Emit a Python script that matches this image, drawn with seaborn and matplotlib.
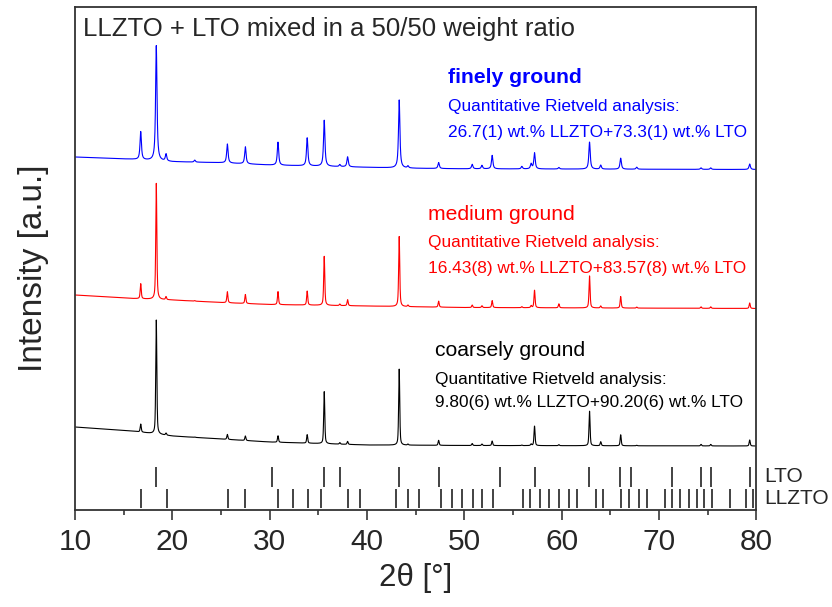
import numpy as np
import pandas as pd
import matplotlib
matplotlib.use("Agg")
import matplotlib.pyplot as plt
import seaborn as sns

# reflection positions (2theta, deg)
lto_refl = [18.34, 30.21, 35.57, 37.22, 43.28, 47.40, 53.68, 57.25, 62.84,
            66.00, 67.10, 71.37, 74.30, 75.35, 79.34]
llzto_refl = [16.78, 19.40, 25.72, 27.51, 30.90, 32.41, 33.92, 35.30, 38.00,
              39.24, 43.00, 44.23, 45.33, 47.63, 48.73, 49.78, 50.83, 51.84,
              52.90, 55.97, 56.75, 57.75, 58.72, 59.72, 60.69, 61.60, 63.48,
              64.26, 66.10, 66.92, 67.88, 68.75, 70.59, 71.37, 72.15, 73.02,
              73.89, 74.62, 75.40, 77.23, 78.97, 79.62]

# observed peaks: position and height above background (a.u.)
peak_pos = [16.75, 18.35, 19.35, 22.3, 25.65, 27.5, 30.85, 33.85, 35.6, 37.2,
            38.0, 43.3, 44.2, 47.35, 50.8, 51.8, 52.85, 55.9, 56.85, 57.2,
            59.7, 62.85, 64.0, 66.05, 67.7, 74.3, 75.3, 79.3]
fine_h = [28, 115, 7, 2, 19, 17, 23, 28, 46, 2,
          10, 68, 2, 6, 4.5, 3.5, 13.5, 2.5, 5, 16,
          1.5, 27, 4, 11, 2, 1.5, 1.5, 5.5]
medium_h = [15, 116, 3, 0.5, 11, 9, 13, 14, 49, 1.5,
            6, 70, 1.5, 6, 2.5, 1.8, 7, 1, 2, 17.5,
            4, 32, 2, 11.5, 1, 1.5, 1.5, 5.5]
coarse_h = [8, 114, 2, 0.3, 5, 4.5, 6.5, 8.5, 52, 1.5,
            3, 76, 1, 5, 2, 1.5, 4.5, 0.5, 1.5, 19.5,
            1, 34.5, 4, 11, 0.5, 1.5, 1.5, 6]

# background levels
bg_x = [10, 16, 20, 25, 30, 40, 45, 50, 80]
fine_bg = [15, 12.7, 10.3, 9.3, 7.0, 4.7, 3.7, 3.2, 2.5]
medium_bg = [15, 11.5, 10, 7.5, 5.5, 4.0, 3.2, 2.5, 1.5]
coarse_bg = [23, 18.8, 14, 11, 8, 5, 4.8, 4.5, 4]

samples = ["coarsely ground", "medium ground", "finely ground"]
heights = {"finely ground": fine_h, "medium ground": medium_h, "coarsely ground": coarse_h}
backgrounds = {"finely ground": fine_bg, "medium ground": medium_bg, "coarsely ground": coarse_bg}
offsets = {"coarsely ground": 60, "medium ground": 200, "finely ground": 338}
fwhm = {"coarsely ground": 0.13, "medium ground": 0.13, "finely ground": 0.17}
eta = {"coarsely ground": 0.5, "medium ground": 0.6, "finely ground": 0.85}
colors = {"coarsely ground": "black", "medium ground": "#ff0000", "finely ground": "#0000ff"}

tt = np.arange(10, 80.001, 0.01)


def pattern(name):
    y = np.interp(tt, bg_x, backgrounds[name]) + offsets[name]
    w = fwhm[name] / 2
    for p, h in zip(peak_pos, heights[name]):
        lor = 1 / (1 + ((tt - p) / w) ** 2)
        gau = np.exp(-np.log(2) * ((tt - p) / w) ** 2)
        y += h * (eta[name] * lor + (1 - eta[name]) * gau)
    return y


df = pd.concat([pd.DataFrame({"2theta": tt, "I": pattern(s), "sample": s}) for s in samples])

sns.set_style("ticks")
plt.rcParams["font.family"] = ["Liberation Sans", "DejaVu Sans"]

fig = plt.figure(figsize=(8.32, 6.07), dpi=100)
ax = fig.add_axes([75 / 832, 1 - 510 / 607, 681.5 / 832, 503 / 607])

sns.lineplot(data=df, x="2theta", y="I", hue="sample", palette=colors,
             estimator=None, sort=False, lw=0.8, legend=False, ax=ax)

ax.vlines(lto_refl, 23, 43, color="#222222", lw=1.2)
ax.vlines(llzto_refl, 2, 21, color="#222222", lw=1.2)
tr = ax.get_yaxis_transform()
ax.text(1.012, 33, "LTO", transform=tr, fontsize=15, va="center", ha="left")
ax.text(1.012, 11, "LLZTO", transform=tr, fontsize=15, va="center", ha="left")

ax.text(0.0117, 474, "LLZTO + LTO mixed in a 50/50 weight ratio",
        transform=tr, fontsize=18.5, va="baseline")

notes = {
    "finely ground": ("26.7(1) wt.% LLZTO+73.3(1) wt.% LTO", 48.33, [426.7, 399, 373.3], "bold"),
    "medium ground": ("16.43(8) wt.% LLZTO+83.57(8) wt.% LTO", 46.28, [290, 263.3, 237.3], "normal"),
    "coarsely ground": ("9.80(6) wt.% LLZTO+90.20(6) wt.% LTO", 47.0, [154, 126, 102.7], "normal"),
}
for s, (frac, x0, ys, wt) in notes.items():
    c = colors[s]
    ax.text(x0, ys[0], s, color=c, fontsize=15.2, fontweight=wt, va="baseline")
    ax.text(x0, ys[1], "Quantitative Rietveld analysis:", color=c, fontsize=12.4, va="baseline")
    ax.text(x0, ys[2], frac, color=c, fontsize=12.4, va="baseline")

ax.set_xlim(10, 80)
ax.set_ylim(0, 503)
ax.set_xticks(np.arange(10, 81, 10))
ax.set_xticks(np.arange(15, 80, 10), minor=True)
ax.set_yticks([])
ax.tick_params(axis="x", which="major", direction="out", length=7, width=1.1, pad=6,
               labelsize=21.5)
ax.tick_params(axis="x", which="minor", direction="out", length=3.5, width=1.1)
for sp in ax.spines.values():
    sp.set_visible(True)
    sp.set_linewidth(1.3)
    sp.set_color("#333333")

ax.set_xlabel("2θ [°]", fontsize=22.5)
ax.xaxis.set_label_coords(0.5004, -0.135)
ax.xaxis.label.set_va("center")
ax.set_ylabel("Intensity [a.u.]", fontsize=24)
ax.yaxis.set_label_coords(-0.0616, 0.48)
ax.yaxis.label.set_va("center")

fig.savefig("out.png", dpi=100)
